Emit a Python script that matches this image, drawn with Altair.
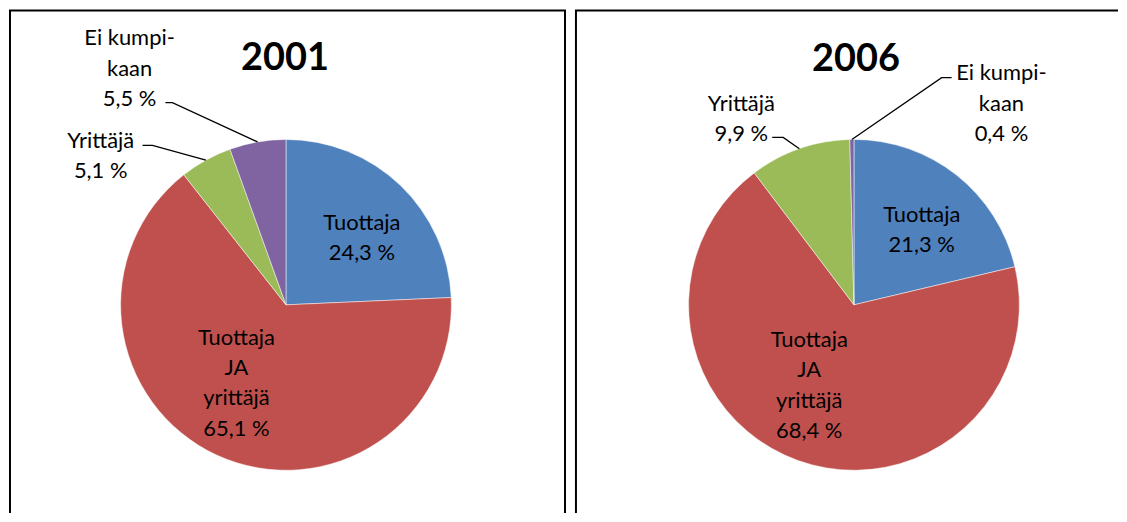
import altair as alt
import pandas as pd
import numpy as np

# ---- data ----
categories = ["Tuottaja", "Tuottaja JA yrittäjä", "Yrittäjä", "Ei kumpikaan"]
label_text = ["Tuottaja", "Tuottaja\nJA\nyrittäjä", "Yrittäjä", "Ei kumpi-\nkaan"]
years = ["2001", "2006"]
values_2001 = [24.3, 65.1, 5.1, 5.5]
values_2006 = [21.3, 68.4, 9.9, 0.4]
colors = ["#4F81BD", "#C0504D", "#9BBB59", "#8064A2"]

# ---- layout (pixels, panel-relative) ----
R = 166
FONT = "Lato"
FS = 22
LH = 30.5
H = 506
layouts = {
    "2001": dict(W=559, cx=278, cy=297, title=(277, 50), borders=("left", "top", "right"),
                 inside={"Tuottaja": (7, -10), "Tuottaja JA yrittäjä": (-8, -58)},
                 outside={"Yrittäjä": dict(pos=(92, 132.5), leader=[(134, 137), (144, 137)]),
                          "Ei kumpikaan": dict(pos=(121, 29.5), leader=[(157, 94), (164, 94)])}),
    "2006": dict(W=545, cx=280, cy=297, title=(282, 51), borders=("left", "top"),
                 inside={"Tuottaja": (6, -12), "Tuottaja JA yrittäjä": (-11, -59)},
                 outside={"Yrittäjä": dict(pos=(167, 95.5), leader=[(198, 129), (209, 129)]),
                          "Ei kumpikaan": dict(pos=(428, 64.5), leader=[(378, 69), (368, 69)])}),
}

theta_scale = alt.Scale(domain=[0, 100], range=[0, 2 * np.pi])
color_scale = alt.Scale(domain=categories, range=colors)


def fmt(v):
    return f"{v:.1f}".replace(".", ",") + " %"


def make_panel(year, values):
    L = layouts[year]
    W, cx, cy = L["W"], L["cx"], L["cy"]
    df = pd.DataFrame({"cat": categories, "value": values})
    df["order"] = range(len(df))
    df["end"] = df["value"].cumsum()
    df["start"] = df["end"] - df["value"]
    df["mid"] = (df["start"] + df["end"]) / 2
    df["label"] = [f"{t}\n{fmt(v)}" for t, v in zip(label_text, values)]

    base = alt.Chart(df)
    layers = []
    arc = base.mark_arc(outerRadius=R, stroke="white", strokeWidth=0.5).encode(
        theta=alt.Theta("start:Q", scale=theta_scale),
        theta2="end:Q",
        color=alt.Color("cat:N", scale=color_scale, legend=None),
        x=alt.value(cx),
        y=alt.value(cy),
    )
    layers.append(arc)

    # inside labels: polar position at slice bisector, small nudge
    for cat, (ndx, ndy) in L["inside"].items():
        t = base.transform_filter(alt.datum.cat == cat).mark_text(
            radius=100, dx=ndx, dy=ndy, font=FONT, fontSize=FS, lineHeight=LH,
            lineBreak="\n", align="center", baseline="middle", color="black",
        ).encode(
            theta=alt.Theta("mid:Q", scale=theta_scale),
            text="label:N",
            x=alt.value(cx),
            y=alt.value(cy),
        )
        layers.append(t)

    # outside labels + leader lines
    lead_rows = []
    for cat, spec in L["outside"].items():
        px, py = spec["pos"]
        t = base.transform_filter(alt.datum.cat == cat).mark_text(
            font=FONT, fontSize=FS, lineHeight=LH, lineBreak="\n",
            align="center", baseline="middle", color="black",
        ).encode(text="label:N", x=alt.value(px), y=alt.value(py))
        layers.append(t)
        row = df[df["cat"] == cat].iloc[0]
        ang = row["mid"] / 100 * 2 * np.pi
        pts = list(spec["leader"]) + [(cx + R * np.sin(ang), cy - R * np.cos(ang))]
        for k, (lx, ly) in enumerate(pts):
            lead_rows.append({"g": cat, "k": k, "lx": lx, "ly": ly})
    lead = alt.Chart(pd.DataFrame(lead_rows)).mark_line(color="black", strokeWidth=1.3).encode(
        x=alt.X("lx:Q", scale=None, axis=None),
        y=alt.Y("ly:Q", scale=None, axis=None),
        detail="g:N",
        order="k:Q",
    )
    layers.append(lead)

    # title
    tx, ty = L["title"]
    title = alt.Chart(pd.DataFrame({"t": [year]})).mark_text(
        font=FONT, fontSize=38, fontWeight="bold", align="center", baseline="middle", color="black"
    ).encode(text="t:N", x=alt.value(tx), y=alt.value(ty))
    layers.append(title)

    # panel border (bottom edge is outside the picture)
    one = alt.Chart(pd.DataFrame({"a": [0]}))
    if "left" in L["borders"]:
        layers.append(one.mark_rule(color="black", strokeWidth=2).encode(
            x=alt.value(1), y=alt.value(1.5), y2=alt.value(H)))
    if "right" in L["borders"]:
        layers.append(one.mark_rule(color="black", strokeWidth=2).encode(
            x=alt.value(W - 1), y=alt.value(1.5), y2=alt.value(H)))
    if "top" in L["borders"]:
        layers.append(one.mark_rule(color="black", strokeWidth=2).encode(
            x=alt.value(0), x2=alt.value(W), y=alt.value(1.5)))

    return alt.layer(*layers).properties(width=W, height=H)


left = make_panel("2001", values_2001)
right = make_panel("2006", values_2006)

chart = alt.hconcat(left, right, spacing=7).properties(padding=0).configure_view(stroke=None)

chart.save("out.html", embed_options={"renderer": "svg", "actions": False})
